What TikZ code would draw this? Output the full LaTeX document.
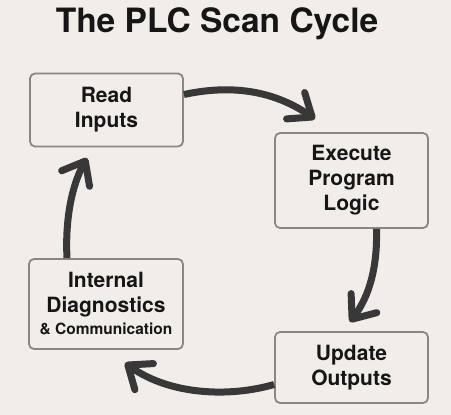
\documentclass[tikz,border=0pt]{standalone}
\usepackage{fontspec}
\setmainfont{TeX Gyre Heros}
\usetikzlibrary{arrows.meta}

\definecolor{paper}{HTML}{F1EEE9}
\definecolor{boxline}{HTML}{8A8682}
\definecolor{arrowgray}{HTML}{383838}
\definecolor{ink}{HTML}{161616}

\begin{document}
\begin{tikzpicture}[x=1pt,y=-1pt,
  stage/.style={draw=boxline, line width=1.8pt, rounded corners=5pt, fill=paper,
    text=ink, align=center, inner sep=0pt, font=\fontsize{21}{25}\selectfont\bfseries},
  flow/.style={draw=arrowgray, line width=7pt, line cap=butt,
    -{Straight Barb[length=20pt,width=32pt,round]}}]
  \useasboundingbox[fill=paper] (0,0) rectangle (451,415);
  \node[font=\fontsize{33.5}{36}\selectfont\bfseries, text=ink, anchor=base] (title) at (217,32) {The PLC Scan Cycle};
  \node[stage, minimum width=153pt, minimum height=73pt] (read) at (106.5,110) {Read\\Inputs};
  \node[stage, minimum width=153pt, minimum height=95pt] (exec) at (351.5,180.5) {Execute\\Program\\Logic};
  \node[stage, minimum width=154pt, minimum height=90pt] (diag) at (106,304) {Internal\\Diagnostics\\[-3pt]{\fontsize{15.5}{18}\selectfont\&~Communication}};
  \node[stage, minimum width=153pt, minimum height=71pt] (update) at (351.5,367.5) {Update\\Outputs};
  % arrow tips end short of the next box
  \coordinate (tipA) at (315,119);
  \coordinate (tipB) at (350,322);
  \coordinate (tipC) at (125,363);
  \coordinate (tipD) at (87,158);
  \draw[flow] ([yshift=15.5pt]read.east) .. controls +(56,-12) and +(-35,-24) .. (tipA);
  \draw[flow] ([xshift=25pt]exec.south) .. controls +(1,37) and +(20,-27) .. (tipB);
  \draw[flow] ([yshift=-17pt]update.west) .. controls +(-45,13) and +(45,32) .. (tipC);
  \draw[flow] ([xshift=-39pt]diag.north) .. controls +(-2,-39) and +(-15,27) .. (tipD);
\end{tikzpicture}
\end{document}
